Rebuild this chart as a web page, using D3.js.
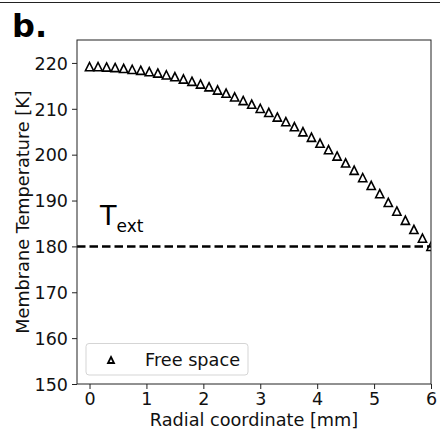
<!DOCTYPE html>
<html>
<head>
<meta charset="utf-8">
<script src="https://cdn.jsdelivr.net/npm/d3@7"></script>
<style>
  body { margin: 0; background: #fff; }
  svg { display: block; font-family: "DejaVu Sans", sans-serif; }
</style>
</head>
<body>
<div class="chart"></div>
<script>
// radial coordinate [mm] and membrane temperature [K]
var radius = [0, 0.15, 0.3, 0.45, 0.6, 0.75, 0.9, 1.05, 1.2, 1.35, 1.5, 1.65, 1.8, 1.95,
    2.1, 2.25, 2.4, 2.55, 2.7, 2.85, 3.0, 3.15, 3.3, 3.45, 3.6, 3.75, 3.9, 4.05,
    4.2, 4.35, 4.5, 4.65, 4.8, 4.95, 5.1, 5.25, 5.4, 5.55, 5.7, 5.85, 6.0];
var temperature = [219.2, 219.2, 219.1, 219.0, 218.8, 218.6, 218.4, 218.1, 217.8, 217.4,
    217.0, 216.5, 216.0, 215.4, 214.8, 214.1, 213.4, 212.6, 211.8, 211.0, 210.1,
    209.2, 208.2, 207.2, 206.1, 205.0, 203.8, 202.5, 201.1, 199.7, 198.2, 196.6,
    195.0, 193.3, 191.5, 189.6, 187.7, 185.7, 183.7, 181.8, 180.0];
var t_ext = 180;
var xTicks = [0, 1, 2, 3, 4, 5, 6];
var yTicks = [150, 160, 170, 180, 190, 200, 210, 220];
var seriesName = "Free space";

var svgWidth = 440, svgHeight = 434;
var plotLeft = 77, plotRight = 431, plotTop = 40, plotBottom = 384;

var svg = d3.select('div.chart')
    .append('svg')
    .attr('width', svgWidth)
    .attr('height', svgHeight);

// thin rule at the very top of the figure crop
svg.append('line')
    .attr('x1', 0).attr('x2', svgWidth)
    .attr('y1', 2.5).attr('y2', 2.5)
    .attr('stroke', '#222').attr('stroke-width', 1);

var x = d3.scaleLinear().domain([-0.22, 6]).range([plotLeft, plotRight]);
var y = d3.scaleLinear().domain([150, 225]).range([plotBottom, plotTop]);

var dataset = radius.map(function (r, i) { return { r: r, t: temperature[i] }; });

svg.append('clipPath').attr('id', 'plotclip')
    .append('rect')
    .attr('x', plotLeft).attr('y', plotTop)
    .attr('width', plotRight - plotLeft).attr('height', plotBottom - plotTop);

var plot = svg.append('g').attr('clip-path', 'url(#plotclip)');

// T_ext reference line
plot.append('line')
    .attr('x1', plotLeft).attr('x2', plotRight)
    .attr('y1', y(t_ext)).attr('y2', y(t_ext))
    .attr('stroke', '#000')
    .attr('stroke-width', 2.5)
    .attr('stroke-dasharray', '8.5,4');

function tri(s) {
    return 'M0,' + (-s) + 'L' + s + ',' + s + 'L' + (-s) + ',' + s + 'Z';
}

plot.append('g')
    .selectAll('path')
    .data(dataset)
    .enter()
    .append('path')
    .attr('d', tri(4.1))
    .attr('transform', function (d) { return 'translate(' + x(d.r) + ',' + y(d.t) + ')'; })
    .attr('fill', 'none')
    .attr('stroke', '#000')
    .attr('stroke-width', 1.6)
    .attr('stroke-linejoin', 'miter');

// axes
var xAxis = d3.axisBottom(x).tickValues(xTicks).tickFormat(d3.format('d')).tickSize(5).tickPadding(4);
var yAxis = d3.axisLeft(y).tickValues(yTicks).tickFormat(d3.format('d')).tickSize(5).tickPadding(4);

var gx = svg.append('g')
    .attr('transform', 'translate(0,' + plotBottom + ')')
    .call(xAxis);
var gy = svg.append('g')
    .attr('transform', 'translate(' + plotLeft + ',0)')
    .call(yAxis);

[gx, gy].forEach(function (g) {
    g.select('.domain').remove();
    g.selectAll('.tick line').attr('stroke', '#222').attr('stroke-width', 1);
    g.selectAll('.tick text')
        .attr('fill', '#111')
        .style('font-size', '17.5px')
        .style('font-family', '"DejaVu Sans", sans-serif');
});
gy.selectAll('.tick text').attr('dy', '0.36em');

svg.append('rect')
    .attr('x', plotLeft).attr('y', plotTop)
    .attr('width', plotRight - plotLeft).attr('height', plotBottom - plotTop)
    .attr('fill', 'none')
    .attr('stroke', '#222')
    .attr('stroke-width', 1);

// labels
svg.append('text')
    .attr('x', (plotLeft + plotRight) / 2)
    .attr('y', 426)
    .attr('text-anchor', 'middle')
    .style('font-size', '17.7px')
    .attr('fill', '#111')
    .text('Radial coordinate [mm]');

svg.append('text')
    .attr('transform', 'translate(29,' + ((plotTop + plotBottom) / 2) + ') rotate(-90)')
    .attr('text-anchor', 'middle')
    .style('font-size', '17.7px')
    .attr('fill', '#111')
    .text('Membrane Temperature [K]');

svg.append('text')
    .attr('x', 12)
    .attr('y', 37)
    .style('font-size', '32px')
    .style('font-weight', 'bold')
    .attr('fill', '#000')
    .text('b.');

var tl = svg.append('text')
    .attr('x', 100)
    .attr('y', 225)
    .attr('fill', '#000');
tl.append('tspan').style('font-size', '27px').text('T');
tl.append('tspan').style('font-size', '17px').attr('dy', 7).text('ext');

// legend
var lg = svg.append('g');
lg.append('rect')
    .attr('x', 86).attr('y', 343.5)
    .attr('width', 162).attr('height', 31.5)
    .attr('rx', 3)
    .attr('fill', '#fff')
    .attr('fill-opacity', 0.8)
    .attr('stroke', '#d5d5d5')
    .attr('stroke-width', 1);
lg.append('path')
    .attr('d', tri(3))
    .attr('transform', 'translate(111,360)')
    .attr('fill', 'none')
    .attr('stroke', '#000')
    .attr('stroke-width', 1.8);
lg.append('text')
    .attr('x', 145)
    .attr('y', 366)
    .style('font-size', '17.7px')
    .attr('fill', '#111')
    .text(seriesName);
</script>
</body>
</html>
